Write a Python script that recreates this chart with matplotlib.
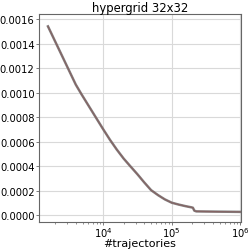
import matplotlib
matplotlib.use("Agg")
import matplotlib.pyplot as plt

trajectories = [1563, 1995, 2512, 3162, 3981, 4840, 6310, 7943, 10000, 12590,
                15850, 19950, 25120, 31620, 39810, 50120, 63100, 79430, 100000,
                125900, 158500, 190500, 204000, 214000, 229000, 316200, 1000000]
values = [0.001541, 0.001417, 0.001300, 0.001183, 0.001066, 0.000986, 0.000882,
          0.000792, 0.000702, 0.000615, 0.000535, 0.000462, 0.000398, 0.000335,
          0.000268, 0.000205, 0.000165, 0.000130, 0.000103, 0.000088, 0.000075,
          0.000066, 0.000062, 0.000038, 0.000032, 0.000031, 0.000028]

fig = plt.figure(figsize=(2.52, 2.51), dpi=100)
ax = fig.add_axes([39/252, 1-223/251, 202/252, 208/251])
ax.plot(trajectories, values, color="red", lw=0.9, zorder=2)
ax.plot(trajectories, values, color="#737373", lw=1.8, alpha=0.88, zorder=3)
ax.set_xscale("log")
ax.set_xlim(10**3.063, 10**6.012)
ax.set_ylim(-0.0000545, 0.001642)
ax.set_yticks([0, 0.0002, 0.0004, 0.0006, 0.0008, 0.0010, 0.0012, 0.0014, 0.0016])
ax.set_yticklabels(["0.0000", "0.0002", "0.0004", "0.0006", "0.0008", "0.0010",
                    "0.0012", "0.0014", "0.0016"])
ax.grid(True, which="major", color="#d9d9d9", lw=0.8)
ax.set_axisbelow(True)
ax.tick_params(labelsize=7.2, length=2, width=0.6, color="#666666", pad=1.2)
ax.tick_params(axis="x", pad=0.3)
ax.tick_params(which="minor", length=1.2, width=0.5, color="#666666")
for s in ax.spines.values():
    s.set_color("#666666")
    s.set_linewidth(0.8)
ax.set_xlabel("#trajectories", fontsize=8.0, labelpad=-0.5)
ax.set_title("hypergrid 32x32", fontsize=8.4, pad=2)
fig.savefig("out.png", dpi=100)
